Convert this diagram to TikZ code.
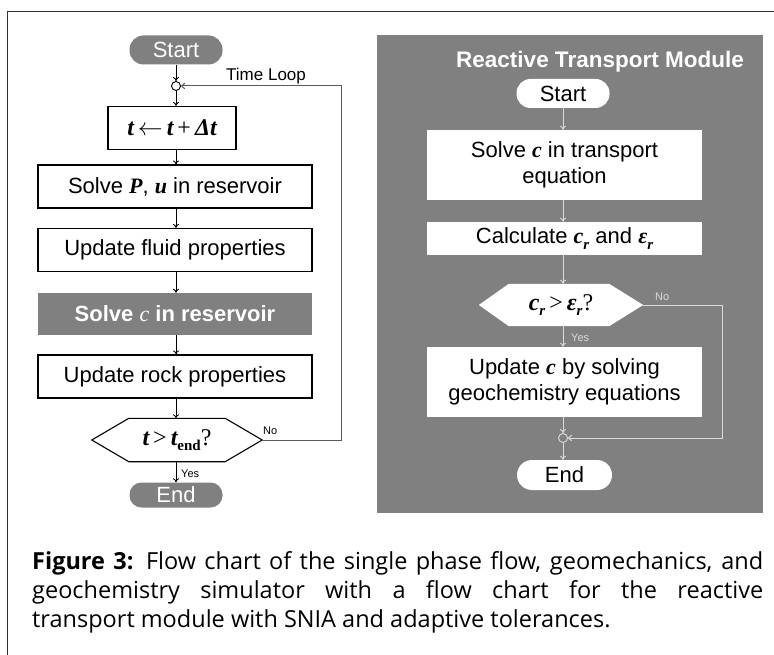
\documentclass[tikz,border=0pt]{standalone}
\usepackage{fontspec}
\setmainfont{Liberation Sans}
\newfontfamily\capfont{Open Sans}
\newfontfamily\symfont{Liberation Serif}
\usetikzlibrary{arrows.meta,calc}

\definecolor{panelgray}{RGB}{128,128,128}
\definecolor{lightline}{RGB}{218,218,218}
\definecolor{framegray}{RGB}{50,50,50}
\definecolor{loopgray}{RGB}{90,90,90}

% bold italic serif symbols and lowered subscripts
\newcommand{\mv}[1]{{\symfont\bfseries\itshape #1}}
\newcommand{\sym}[1]{{\symfont #1}}
\newcommand{\lowsub}[1]{\raisebox{-0.45ex}{\fontsize{15}{15}\selectfont #1}}

\tikzset{
  txt/.style={font=\fontsize{22}{26}\selectfont, inner sep=0pt, align=center},
  lbox/.style={txt, draw=black, line width=1.1pt, minimum width=274pt, minimum height=43pt},
  graybox/.style={txt, fill=panelgray, text=white, minimum width=274pt, minimum height=42pt},
  wbox/.style={txt, fill=white, minimum width=275pt},
  pill/.style={txt, rounded corners=14pt, minimum width=93pt, minimum height=29pt},
  hexnode/.style={inner sep=0pt, font=\fontsize{24}{26}\selectfont},
  joint/.style={circle, inner sep=0pt, minimum size=9pt, line width=0.9pt},
  flow/.style={-{To[length=4pt,width=6pt]}, line width=0.9pt},
  note/.style={inner sep=0pt, font=\fontsize{11}{12}\selectfont}
}

\begin{document}
\begin{tikzpicture}[x=1pt,y=-1pt]
\useasboundingbox (0,0) rectangle (774,655);
\fill[white] (0,0) rectangle (774,655);

% page frame (top and left rules)
\draw[framegray, line width=1pt] (7,655) -- (7,12) -- (774,12);

% ---------------- main simulator loop ----------------
\node[pill, fill=panelgray, text=white] (lstart) at (176,50) {Start};
\node[joint, draw=black, fill=white] (lmerge) at (176,86) {};
\node[note, font=\fontsize{17}{19}\selectfont, anchor=west] (timeloop) at (226,76) {Time Loop};
\node[lbox, minimum width=128pt, minimum height=43pt, font=\fontsize{24}{26}\selectfont] (ltime) at (172,128)
  {\mv{t}\,$\leftarrow$\,\mv{t}\,\sym{+}\,\mv{Δt}};
\node[lbox] (lsolvep) at (175,186.5) {Solve \mv{P}, \mv{u} in reservoir};
\node[lbox] (lfluid) at (175,250) {Update fluid properties};
\node[graybox, font=\bfseries\fontsize{22}{26}\selectfont] (lsolvec) at (175,314) {Solve {\symfont\mdseries\itshape c} in reservoir};
\node[lbox] (lrock) at (175,376.5) {Update rock properties};
\node[hexnode, minimum width=170pt, minimum height=43pt] (lhex) at (177,440)
  {\mv{t}\,\sym{>}\,\mv{t}\lowsub{\symfont\bfseries end}\sym{?}};
\draw[black, line width=1.1pt]
  (lhex.west) -- ([xshift=37pt]lhex.north west) -- ([xshift=-37pt]lhex.north east)
  -- (lhex.east) -- ([xshift=-37pt]lhex.south east) -- ([xshift=37pt]lhex.south west) -- cycle;
\node[pill, fill=panelgray, text=white, minimum height=25pt, rounded corners=12pt] (lend) at (176,495) {End};

\draw[flow] (lstart) -- (lmerge);
\draw[flow] (lmerge) -- (lmerge |- ltime.north);
\draw[flow] (lmerge |- ltime.south) -- (lmerge |- lsolvep.north);
\draw[flow] (lmerge |- lsolvep.south) -- (lmerge |- lfluid.north);
\draw[flow] (lmerge |- lfluid.south) -- (lmerge |- lsolvec.north);
\draw[flow] (lmerge |- lsolvec.south) -- (lmerge |- lrock.north);
\draw[flow] (lmerge |- lrock.south) -- (lmerge |- lhex.north);
\draw[flow] (lmerge |- lhex.south) -- (lend);
\coordinate (lcorner) at (341,440);
\draw[loopgray, line width=1pt, -{To[length=4pt,width=6pt]}]
  (lhex.east) -- (lcorner) |- (lmerge.east);
\node[note, anchor=west] (lno) at (263,431) {No};
\node[note, anchor=west] (lyes) at (181,474) {Yes};

% ---------------- reactive transport module ----------------
\node[fill=panelgray, minimum width=386pt, minimum height=478pt, inner sep=0pt, anchor=north west] (panel) at (377,35) {};
\node[txt, text=white, font=\bfseries\fontsize{22.5}{25}\selectfont] (title) at (600,62) {Reactive Transport Module};
\node[pill, fill=white] (rstart) at (563,93.5) {Start};
\node[wbox, minimum height=70pt] (rsolve) at (564.5,165) {Solve \mv{c} in transport\\equation};
\node[wbox, minimum height=33pt] (rcalc) at (564.5,238.5)
  {Calculate \mv{c}\lowsub{\mv{r}} and \mv{ε}\lowsub{\mv{r}}};
\node[hexnode, minimum width=164pt, minimum height=42pt] (rhex) at (561,305) {};
\fill[white]
  (rhex.west) -- ([xshift=30pt]rhex.north west) -- ([xshift=-34pt]rhex.north east)
  -- (rhex.east) -- ([xshift=-34pt]rhex.south east) -- ([xshift=30pt]rhex.south west) -- cycle;
\node[hexnode] (rhextext) at (rhex) {\mv{c}\lowsub{\mv{r}}\,\sym{>}\,\mv{ε}\lowsub{\mv{r}}\sym{?}};
\node[wbox, minimum height=70pt] (rupdate) at (564.5,382) {Update \mv{c} by solving\\geochemistry equations};
\node[joint, draw=lightline, fill=panelgray] (rmerge) at (563,438) {};
\node[pill, fill=white, minimum width=95pt, minimum height=30pt, rounded corners=15pt] (rend) at (564.5,475) {End};

\begin{scope}[lightline]
\draw[flow] (rstart.south -| rmerge) -- (rsolve.north -| rmerge);
\draw[flow] (rsolve.south -| rmerge) -- (rcalc.north -| rmerge);
\draw[flow] (rcalc.south -| rmerge) -- (rhex.north -| rmerge);
\draw[flow] (rhex.south -| rmerge) -- (rupdate.north -| rmerge);
\draw[flow] (rupdate.south -| rmerge) -- (rmerge);
\draw[flow] (rmerge) -- (rend.north -| rmerge);
\coordinate (rcorner) at (722,305);
\draw[line width=1pt, -{To[length=4pt,width=6pt]}] (rhex.east) -- (rcorner) |- (rmerge.east);
\node[note, anchor=west] (rno) at (655,297) {No};
\node[note, anchor=west] (ryes) at (571,338) {Yes};
\end{scope}

% ---------------- caption ----------------
\node[anchor=north west, inner sep=0pt, text width=731pt, align=justify,
      font=\capfont\fontsize{23.5}{29}\selectfont] (caption) at (32,551)
  {\fontsize{23.5}{29}\selectfont
   \textbf{Figure 3:} Flow chart of the single phase flow, geomechanics, and\linebreak
   geochemistry simulator with a flow chart for the reactive\linebreak
   transport module with SNIA and adaptive tolerances.\par};
\end{tikzpicture}
\end{document}
